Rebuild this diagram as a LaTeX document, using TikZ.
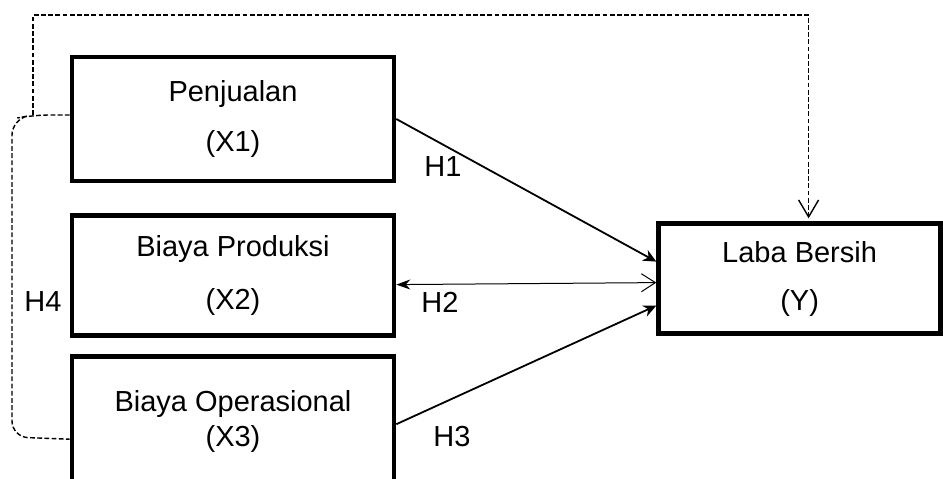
\documentclass[tikz,border=0pt]{standalone}
\usepackage{fontspec}
\setmainfont{Liberation Sans}
\usetikzlibrary{positioning, arrows.meta}
\tikzset{node distance=15pt, % gap between the variable boxes
var/.style={ % boxes for the variables
draw, line width=2.3pt,
minimum width=161pt,
align=center,
font=\fontsize{14.5}{17.4}\selectfont},
lbl/.style={font=\fontsize{14.5}{17.4}\selectfont}, % hypothesis labels
hyp/.style={ % solid paths H1..H3
draw, line width=0.9pt,
-{Stealth[length=6.5pt,width=6pt]}},
dashline/.style={ % dashed path for H4
draw, line width=0.7pt,
dash pattern=on 2.4pt off 1.2pt}}

\begin{document}
\begin{tikzpicture}[x=0.5pt, y=-0.5pt]
    \useasboundingbox (0,0) rectangle (943,478);

    \node[var, minimum height=62pt] (pj) at (233,119) {Penjualan\\[7.6pt](X1)};
    \node[var, minimum height=60pt, below=of pj] (bp) {Biaya Produksi\\[9pt](X2)};
    \node[var, minimum height=65pt, below=8pt of bp] (bo) {Biaya Operasional\\(X3)};
    \node[var, minimum width=141pt, minimum height=55pt, right=130pt of bp, yshift=-1.5pt] (lb) {Laba Bersih\\[6.6pt](Y)};

    \coordinate (h4top) at (33,115);

    \draw[hyp] (pj.east) -- ([yshift=8.5pt]lb.west);
    \draw[line width=0.5pt, {Stealth[length=7pt,width=5pt]}-{Straight Barb[length=7pt,width=9pt]}]
        ([yshift=-4.5pt]bp.east) -- ([yshift=-2pt]lb.west);
    \draw[hyp] ([yshift=-1.5pt]bo.east) -- ([yshift=-13.5pt]lb.west);

    \draw[dashline, rounded corners=8pt] ([yshift=2pt]pj.west) -- (h4top) -- (12,119) -- (12,437) -- ([yshift=-9pt]bo.west);
    \draw[dashline, -{Straight Barb[length=8.5pt,width=10pt]}] (h4top) -- ++(0,-100) -| ([xshift=4.5pt,yshift=1.5pt]lb.north);

    \node[lbl] (h1) at (443,167) {H1};
    \node[lbl] (h2) at (440,302) {H2};
    \node[lbl] (h3) at (452,437) {H3};
    \node[lbl] (h4) at (43,302) {H4};

\end{tikzpicture}
\end{document}
